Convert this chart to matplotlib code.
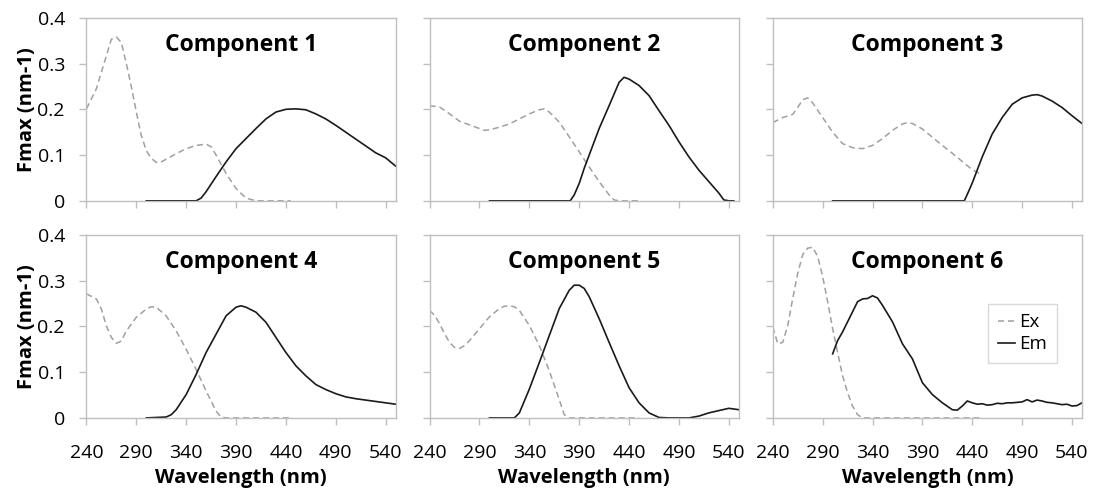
import matplotlib
matplotlib.use("Agg")
import matplotlib.pyplot as plt

plt.rcParams['font.family'] = ['Open Sans', 'DejaVu Sans']

# excitation / emission spectra
ex1_x = [240, 250, 260, 265, 270, 275, 280, 285, 290, 295, 300, 305, 310, 315, 320, 330, 340, 350, 360, 365, 370, 380, 390, 400, 410, 445]
ex1_y = [0.201, 0.245, 0.317, 0.353, 0.358, 0.346, 0.30, 0.25, 0.194, 0.143, 0.11, 0.093, 0.084, 0.085, 0.091, 0.103, 0.114, 0.121, 0.124, 0.118, 0.10, 0.06, 0.027, 0.006, 0, 0]
em1_x = [300, 350, 355, 360, 370, 380, 390, 400, 410, 420, 430, 440, 450, 460, 470, 480, 490, 500, 510, 520, 530, 540, 550]
em1_y = [0, 0, 0.006, 0.02, 0.053, 0.085, 0.114, 0.136, 0.158, 0.179, 0.194, 0.2, 0.201, 0.199, 0.19, 0.179, 0.165, 0.15, 0.135, 0.12, 0.105, 0.094, 0.076]

ex2_x = [240, 250, 260, 270, 280, 290, 295, 300, 310, 320, 330, 340, 350, 355, 360, 370, 380, 390, 400, 410, 420, 425, 430, 449]
ex2_y = [0.208, 0.205, 0.19, 0.174, 0.166, 0.158, 0.154, 0.155, 0.161, 0.168, 0.179, 0.19, 0.199, 0.201, 0.194, 0.172, 0.14, 0.107, 0.074, 0.042, 0.013, 0.002, 0, 0]
em2_x = [300, 381, 385, 390, 395, 400, 410, 420, 430, 435, 440, 450, 460, 470, 480, 490, 500, 510, 520, 530, 535, 540, 545]
em2_y = [0, 0, 0.013, 0.038, 0.071, 0.1, 0.158, 0.208, 0.259, 0.27, 0.266, 0.252, 0.23, 0.197, 0.165, 0.129, 0.096, 0.067, 0.042, 0.017, 0.002, 0, 0]

ex3_x = [240, 250, 260, 265, 270, 275, 280, 290, 300, 310, 320, 330, 340, 350, 360, 370, 375, 380, 390, 400, 410, 420, 430, 440, 450]
ex3_y = [0.171, 0.182, 0.189, 0.204, 0.221, 0.225, 0.214, 0.182, 0.15, 0.125, 0.116, 0.114, 0.121, 0.136, 0.154, 0.168, 0.171, 0.169, 0.157, 0.139, 0.121, 0.104, 0.086, 0.068, 0.057]
em3_x = [300, 432, 435, 440, 450, 460, 470, 480, 490, 500, 505, 510, 520, 530, 540, 550]
em3_y = [0, 0, 0.014, 0.039, 0.096, 0.146, 0.182, 0.211, 0.225, 0.231, 0.232, 0.229, 0.218, 0.204, 0.186, 0.169]

ex4_x = [240, 250, 255, 260, 265, 270, 275, 280, 290, 300, 305, 310, 320, 330, 340, 350, 360, 370, 375, 380, 447]
ex4_y = [0.271, 0.26, 0.238, 0.201, 0.176, 0.163, 0.168, 0.19, 0.22, 0.238, 0.243, 0.242, 0.223, 0.19, 0.15, 0.106, 0.059, 0.015, 0.002, 0, 0]
em4_x = [300, 320, 325, 330, 340, 350, 360, 370, 380, 390, 395, 400, 410, 420, 430, 440, 450, 460, 470, 480, 490, 500, 510, 520, 530, 540, 550]
em4_y = [0, 0.002, 0.007, 0.018, 0.051, 0.095, 0.143, 0.183, 0.223, 0.242, 0.245, 0.242, 0.231, 0.209, 0.176, 0.143, 0.114, 0.092, 0.073, 0.062, 0.053, 0.046, 0.042, 0.039, 0.036, 0.033, 0.03]

ex5_x = [240, 245, 250, 255, 260, 265, 270, 275, 280, 290, 300, 310, 315, 320, 325, 330, 340, 350, 360, 370, 375, 380, 450]
ex5_y = [0.235, 0.224, 0.206, 0.184, 0.165, 0.154, 0.152, 0.158, 0.169, 0.195, 0.221, 0.239, 0.244, 0.245, 0.243, 0.235, 0.202, 0.158, 0.103, 0.04, 0.007, 0, 0]
em5_x = [300, 325, 330, 340, 350, 360, 370, 380, 385, 390, 395, 400, 410, 420, 430, 440, 450, 460, 470, 480, 500, 510, 520, 530, 540, 550]
em5_y = [0, 0, 0.011, 0.063, 0.121, 0.18, 0.239, 0.279, 0.29, 0.29, 0.283, 0.265, 0.217, 0.165, 0.114, 0.066, 0.033, 0.011, 0.001, 0, 0, 0.004, 0.011, 0.016, 0.021, 0.018]

ex6_x = [240, 245, 250, 255, 260, 265, 270, 275, 280, 285, 290, 295, 300, 305, 310, 315, 320, 325, 330, 447]
ex6_y = [0.199, 0.162, 0.165, 0.202, 0.261, 0.316, 0.357, 0.371, 0.373, 0.353, 0.309, 0.254, 0.195, 0.143, 0.092, 0.055, 0.026, 0.007, 0, 0]
em6_x = [300, 305, 310, 320, 325, 330, 335, 340, 345, 350, 360, 370, 380, 390, 400, 410, 420, 425, 430, 435, 440, 445, 450, 455, 460, 465, 470, 475, 480, 485, 490, 495, 500, 505, 510, 515, 520, 525, 530, 535, 540, 545, 550]
em6_y = [0.14, 0.169, 0.188, 0.232, 0.254, 0.26, 0.261, 0.267, 0.262, 0.246, 0.21, 0.162, 0.129, 0.077, 0.051, 0.033, 0.018, 0.017, 0.026, 0.037, 0.033, 0.03, 0.031, 0.028, 0.029, 0.032, 0.031, 0.033, 0.033, 0.034, 0.035, 0.04, 0.035, 0.039, 0.037, 0.034, 0.033, 0.031, 0.029, 0.03, 0.026, 0.027, 0.033]

titles = ['Component 1', 'Component 2', 'Component 3', 'Component 4', 'Component 5', 'Component 6']
ex_all = [(ex1_x, ex1_y), (ex2_x, ex2_y), (ex3_x, ex3_y), (ex4_x, ex4_y), (ex5_x, ex5_y), (ex6_x, ex6_y)]
em_all = [(em1_x, em1_y), (em2_x, em2_y), (em3_x, em3_y), (em4_x, em4_y), (em5_x, em5_y), (em6_x, em6_y)]

xticks = [240, 290, 340, 390, 440, 490, 540]
yticks = [0, 0.1, 0.2, 0.3, 0.4]
ylabels = ['0', '0.1', '0.2', '0.3', '0.4']

grey = '#bfbfbf'

fig, axes = plt.subplots(2, 3, figsize=(10.94, 4.94), dpi=100)
plt.subplots_adjust(left=0.079, right=0.989, top=0.964, bottom=0.154, wspace=0.11, hspace=0.186)

for i, ax in enumerate(axes.flat):
    ax.plot(ex_all[i][0], ex_all[i][1], color='#a0a0a0', ls=(0, (4, 2.5)), lw=1.1, label='Ex')
    ax.plot(em_all[i][0], em_all[i][1], color='#1a1a1a', lw=1.2, label='Em')
    ax.set_xlim(240, 550)
    ax.set_ylim(0, 0.4)
    ax.set_xticks(xticks)
    ax.set_yticks(yticks)
    for s in ax.spines.values():
        s.set_color(grey)
        s.set_linewidth(1.0)
    ax.tick_params(direction='out', length=5, width=1, color=grey, labelsize=14)
    ax.tick_params(axis='x', pad=14)
    ax.tick_params(axis='y', pad=10.5)
    ax.text(0.5, 0.85, titles[i], transform=ax.transAxes, ha='center', va='center',
            fontsize=16.5, fontweight='bold')
    if i % 3 == 0:
        ax.set_yticklabels(ylabels)
        ax.set_ylabel('Fmax (nm-1)', fontsize=14.5, fontweight='bold', labelpad=0)
    else:
        ax.set_yticklabels([])
    if i >= 3:
        ax.set_xlabel('Wavelength (nm)', fontsize=14.5, fontweight='bold', labelpad=4)
    else:
        ax.set_xticklabels([])

leg = axes[1, 2].legend(loc='upper right', bbox_to_anchor=(0.918, 0.622), fontsize=13.5,
                        handlelength=0.9, handletextpad=0.25, frameon=True, fancybox=False,
                        borderpad=0.5, labelspacing=0.2, borderaxespad=0)
leg.get_frame().set_edgecolor('#d0d0d0')
leg.get_frame().set_linewidth(1.0)

plt.savefig('out.png', dpi=100)
